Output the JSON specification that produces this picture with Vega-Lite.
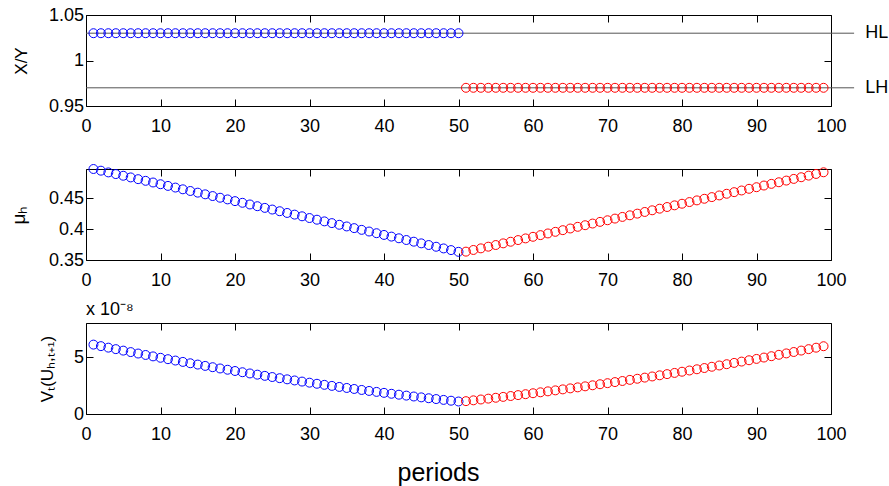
{
  "$schema": "https://vega.github.io/schema/vega-lite/v6.json",
  "padding": {"left": 8, "top": 5, "right": 0, "bottom": 0},
  "background": "white",
  "datasets": {
    "refs": [
      {"level": 1.03, "label": "HL"},
      {"level": 0.97, "label": "LH"}
    ],
    "series": [
      {"t":1,"regime":"HL","xy":1.03,"mu":0.4970,"v":6.100},
      {"t":2,"regime":"HL","xy":1.03,"mu":0.4943,"v":5.966},
      {"t":3,"regime":"HL","xy":1.03,"mu":0.4915,"v":5.833},
      {"t":4,"regime":"HL","xy":1.03,"mu":0.4888,"v":5.702},
      {"t":5,"regime":"HL","xy":1.03,"mu":0.4861,"v":5.572},
      {"t":6,"regime":"HL","xy":1.03,"mu":0.4834,"v":5.443},
      {"t":7,"regime":"HL","xy":1.03,"mu":0.4806,"v":5.316},
      {"t":8,"regime":"HL","xy":1.03,"mu":0.4779,"v":5.190},
      {"t":9,"regime":"HL","xy":1.03,"mu":0.4752,"v":5.065},
      {"t":10,"regime":"HL","xy":1.03,"mu":0.4724,"v":4.942},
      {"t":11,"regime":"HL","xy":1.03,"mu":0.4697,"v":4.820},
      {"t":12,"regime":"HL","xy":1.03,"mu":0.4670,"v":4.699},
      {"t":13,"regime":"HL","xy":1.03,"mu":0.4642,"v":4.580},
      {"t":14,"regime":"HL","xy":1.03,"mu":0.4615,"v":4.461},
      {"t":15,"regime":"HL","xy":1.03,"mu":0.4588,"v":4.345},
      {"t":16,"regime":"HL","xy":1.03,"mu":0.4561,"v":4.229},
      {"t":17,"regime":"HL","xy":1.03,"mu":0.4533,"v":4.115},
      {"t":18,"regime":"HL","xy":1.03,"mu":0.4506,"v":4.003},
      {"t":19,"regime":"HL","xy":1.03,"mu":0.4479,"v":3.891},
      {"t":20,"regime":"HL","xy":1.03,"mu":0.4451,"v":3.781},
      {"t":21,"regime":"HL","xy":1.03,"mu":0.4424,"v":3.672},
      {"t":22,"regime":"HL","xy":1.03,"mu":0.4397,"v":3.565},
      {"t":23,"regime":"HL","xy":1.03,"mu":0.4369,"v":3.459},
      {"t":24,"regime":"HL","xy":1.03,"mu":0.4342,"v":3.354},
      {"t":25,"regime":"HL","xy":1.03,"mu":0.4315,"v":3.251},
      {"t":26,"regime":"HL","xy":1.03,"mu":0.4288,"v":3.149},
      {"t":27,"regime":"HL","xy":1.03,"mu":0.4260,"v":3.048},
      {"t":28,"regime":"HL","xy":1.03,"mu":0.4233,"v":2.949},
      {"t":29,"regime":"HL","xy":1.03,"mu":0.4206,"v":2.850},
      {"t":30,"regime":"HL","xy":1.03,"mu":0.4178,"v":2.754},
      {"t":31,"regime":"HL","xy":1.03,"mu":0.4151,"v":2.658},
      {"t":32,"regime":"HL","xy":1.03,"mu":0.4124,"v":2.564},
      {"t":33,"regime":"HL","xy":1.03,"mu":0.4096,"v":2.472},
      {"t":34,"regime":"HL","xy":1.03,"mu":0.4069,"v":2.380},
      {"t":35,"regime":"HL","xy":1.03,"mu":0.4042,"v":2.290},
      {"t":36,"regime":"HL","xy":1.03,"mu":0.4015,"v":2.201},
      {"t":37,"regime":"HL","xy":1.03,"mu":0.3987,"v":2.114},
      {"t":38,"regime":"HL","xy":1.03,"mu":0.3960,"v":2.028},
      {"t":39,"regime":"HL","xy":1.03,"mu":0.3933,"v":1.943},
      {"t":40,"regime":"HL","xy":1.03,"mu":0.3905,"v":1.860},
      {"t":41,"regime":"HL","xy":1.03,"mu":0.3878,"v":1.778},
      {"t":42,"regime":"HL","xy":1.03,"mu":0.3851,"v":1.697},
      {"t":43,"regime":"HL","xy":1.03,"mu":0.3823,"v":1.617},
      {"t":44,"regime":"HL","xy":1.03,"mu":0.3796,"v":1.539},
      {"t":45,"regime":"HL","xy":1.03,"mu":0.3769,"v":1.463},
      {"t":46,"regime":"HL","xy":1.03,"mu":0.3742,"v":1.387},
      {"t":47,"regime":"HL","xy":1.03,"mu":0.3714,"v":1.313},
      {"t":48,"regime":"HL","xy":1.03,"mu":0.3687,"v":1.240},
      {"t":49,"regime":"HL","xy":1.03,"mu":0.3660,"v":1.169},
      {"t":50,"regime":"HL","xy":1.03,"mu":0.3632,"v":1.099},
      {"t":51,"regime":"LH","xy":0.97,"mu":0.3635,"v":1.130},
      {"t":52,"regime":"LH","xy":0.97,"mu":0.3662,"v":1.202},
      {"t":53,"regime":"LH","xy":0.97,"mu":0.3688,"v":1.276},
      {"t":54,"regime":"LH","xy":0.97,"mu":0.3715,"v":1.351},
      {"t":55,"regime":"LH","xy":0.97,"mu":0.3742,"v":1.427},
      {"t":56,"regime":"LH","xy":0.97,"mu":0.3769,"v":1.504},
      {"t":57,"regime":"LH","xy":0.97,"mu":0.3795,"v":1.582},
      {"t":58,"regime":"LH","xy":0.97,"mu":0.3822,"v":1.662},
      {"t":59,"regime":"LH","xy":0.97,"mu":0.3849,"v":1.743},
      {"t":60,"regime":"LH","xy":0.97,"mu":0.3875,"v":1.825},
      {"t":61,"regime":"LH","xy":0.97,"mu":0.3902,"v":1.908},
      {"t":62,"regime":"LH","xy":0.97,"mu":0.3929,"v":1.992},
      {"t":63,"regime":"LH","xy":0.97,"mu":0.3955,"v":2.078},
      {"t":64,"regime":"LH","xy":0.97,"mu":0.3982,"v":2.165},
      {"t":65,"regime":"LH","xy":0.97,"mu":0.4009,"v":2.253},
      {"t":66,"regime":"LH","xy":0.97,"mu":0.4036,"v":2.342},
      {"t":67,"regime":"LH","xy":0.97,"mu":0.4062,"v":2.432},
      {"t":68,"regime":"LH","xy":0.97,"mu":0.4089,"v":2.524},
      {"t":69,"regime":"LH","xy":0.97,"mu":0.4116,"v":2.617},
      {"t":70,"regime":"LH","xy":0.97,"mu":0.4142,"v":2.711},
      {"t":71,"regime":"LH","xy":0.97,"mu":0.4169,"v":2.806},
      {"t":72,"regime":"LH","xy":0.97,"mu":0.4196,"v":2.902},
      {"t":73,"regime":"LH","xy":0.97,"mu":0.4222,"v":3.000},
      {"t":74,"regime":"LH","xy":0.97,"mu":0.4249,"v":3.099},
      {"t":75,"regime":"LH","xy":0.97,"mu":0.4276,"v":3.199},
      {"t":76,"regime":"LH","xy":0.97,"mu":0.4303,"v":3.300},
      {"t":77,"regime":"LH","xy":0.97,"mu":0.4329,"v":3.402},
      {"t":78,"regime":"LH","xy":0.97,"mu":0.4356,"v":3.506},
      {"t":79,"regime":"LH","xy":0.97,"mu":0.4383,"v":3.611},
      {"t":80,"regime":"LH","xy":0.97,"mu":0.4409,"v":3.717},
      {"t":81,"regime":"LH","xy":0.97,"mu":0.4436,"v":3.824},
      {"t":82,"regime":"LH","xy":0.97,"mu":0.4463,"v":3.932},
      {"t":83,"regime":"LH","xy":0.97,"mu":0.4489,"v":4.042},
      {"t":84,"regime":"LH","xy":0.97,"mu":0.4516,"v":4.153},
      {"t":85,"regime":"LH","xy":0.97,"mu":0.4543,"v":4.265},
      {"t":86,"regime":"LH","xy":0.97,"mu":0.4570,"v":4.378},
      {"t":87,"regime":"LH","xy":0.97,"mu":0.4596,"v":4.492},
      {"t":88,"regime":"LH","xy":0.97,"mu":0.4623,"v":4.608},
      {"t":89,"regime":"LH","xy":0.97,"mu":0.4650,"v":4.725},
      {"t":90,"regime":"LH","xy":0.97,"mu":0.4676,"v":4.843},
      {"t":91,"regime":"LH","xy":0.97,"mu":0.4703,"v":4.962},
      {"t":92,"regime":"LH","xy":0.97,"mu":0.4730,"v":5.082},
      {"t":93,"regime":"LH","xy":0.97,"mu":0.4756,"v":5.204},
      {"t":94,"regime":"LH","xy":0.97,"mu":0.4783,"v":5.327},
      {"t":95,"regime":"LH","xy":0.97,"mu":0.4810,"v":5.451},
      {"t":96,"regime":"LH","xy":0.97,"mu":0.4837,"v":5.576},
      {"t":97,"regime":"LH","xy":0.97,"mu":0.4863,"v":5.702},
      {"t":98,"regime":"LH","xy":0.97,"mu":0.4890,"v":5.830},
      {"t":99,"regime":"LH","xy":0.97,"mu":0.4917,"v":5.959}
    ]
  },
  "bounds": "flush",
  "spacing": 63,
  "vconcat": [
    {
      "width": 745,
      "height": 91,
      "layer": [
        {
          "data": {"name": "refs"},
          "mark": {"type": "rule", "color": "#555555", "strokeWidth": 1},
          "encoding": {
            "x": {"datum": 0, "type": "quantitative", "axis": null},
            "x2": {"datum": 103.1},
            "y": {"field": "level", "type": "quantitative", "axis": null}
          }
        },
        {
          "data": {"name": "refs"},
          "mark": {"type": "text", "align": "left", "baseline": "middle", "fontSize": 18, "font": "Liberation Sans", "color": "black"},
          "encoding": {
            "x": {"datum": 104.6, "type": "quantitative", "axis": null},
            "y": {"field": "level", "type": "quantitative", "axis": null},
            "text": {"field": "label"}
          }
        },
        {
          "data": {"name": "series"},
          "mark": {"type": "point", "shape": "circle", "filled": false, "size": 80, "strokeWidth": 1, "opacity": 1},
          "encoding": {
            "x": {"field": "t", "type": "quantitative", "scale": {"domain": [0, 100], "nice": false, "zero": false},
                  "axis": {"orient": "bottom", "values": [0,10,20,30,40,50,60,70,80,90,100], "title": null}},
            "y": {"field": "xy", "type": "quantitative", "scale": {"domain": [0.95, 1.05], "nice": false, "zero": false},
                  "axis": {"orient": "left", "values": [0.95, 1, 1.05], "labelExpr": "'' + datum.value", "title": "X/Y",
                           "titleX": -60, "titleY": 45.5, "titleAngle": 270, "titleBaseline": "alphabetic", "titleAlign": "center"}},
            "color": {"field": "regime", "type": "nominal", "scale": {"domain": ["HL", "LH"], "range": ["#0000ff", "#ff0000"]}, "legend": null}
          }
        },
        {
          "data": {"name": "series"},
          "mark": {"type": "point", "opacity": 0},
          "encoding": {
            "x": {"field": "t", "type": "quantitative", "axis": {"orient": "top", "values": [0,10,20,30,40,50,60,70,80,90,100], "labels": false, "title": null}},
            "y": {"field": "xy", "type": "quantitative", "axis": {"orient": "right", "values": [0.95, 1, 1.05], "labels": false, "title": null}}
          }
        }
      ],
      "resolve": {"axis": {"x": "independent", "y": "independent"}}
    },
    {
      "width": 745,
      "height": 91,
      "data": {"name": "series"},
      "layer": [
        {
          "mark": {"type": "point", "shape": "circle", "filled": false, "size": 80, "strokeWidth": 1, "opacity": 1},
          "encoding": {
            "x": {"field": "t", "type": "quantitative", "scale": {"domain": [0, 100], "nice": false, "zero": false},
                  "axis": {"orient": "bottom", "values": [0,10,20,30,40,50,60,70,80,90,100], "title": null}},
            "y": {"field": "mu", "type": "quantitative", "scale": {"domain": [0.35, 0.497], "nice": false, "zero": false},
                  "axis": {"orient": "left", "values": [0.35, 0.4, 0.45], "labelExpr": "'' + datum.value", "title": "μₕ",
                           "titleX": -62, "titleY": 45.5, "titleAngle": 270, "titleBaseline": "alphabetic", "titleAlign": "center", "titleFontSize": 19}},
            "color": {"field": "regime", "type": "nominal", "scale": {"domain": ["HL", "LH"], "range": ["#0000ff", "#ff0000"]}, "legend": null}
          }
        },
        {
          "mark": {"type": "point", "opacity": 0},
          "encoding": {
            "x": {"field": "t", "type": "quantitative", "axis": {"orient": "top", "values": [0,10,20,30,40,50,60,70,80,90,100], "labels": false, "title": null}},
            "y": {"field": "mu", "type": "quantitative", "axis": {"orient": "right", "values": [0.35, 0.4, 0.45], "labels": false, "title": null}}
          }
        }
      ],
      "resolve": {"axis": {"x": "independent", "y": "independent"}}
    },
    {
      "width": 745,
      "height": 91,
      "data": {"name": "series"},
      "title": {"text": "x 10⁻⁸", "anchor": "start", "frame": "group", "fontSize": 18, "fontWeight": "normal", "font": "Liberation Sans", "color": "black", "baseline": "alphabetic", "offset": 7, "dy": 17},
      "layer": [
        {
          "mark": {"type": "point", "shape": "circle", "filled": false, "size": 80, "strokeWidth": 1, "opacity": 1},
          "encoding": {
            "x": {"field": "t", "type": "quantitative", "scale": {"domain": [0, 100], "nice": false, "zero": false},
                  "axis": {"orient": "bottom", "values": [0,10,20,30,40,50,60,70,80,90,100], "title": "periods",
                           "titleX": 352, "titleY": 66, "titleBaseline": "alphabetic", "titleAlign": "center", "titleFontSize": 25}},
            "y": {"field": "v", "type": "quantitative", "scale": {"domain": [0, 8], "nice": false, "zero": false},
                  "axis": {"orient": "left", "values": [0, 5], "title": "Vₜ(Uₕ,ₜ₊₁)",
                           "titleX": -34, "titleY": 45.5, "titleAngle": 270, "titleBaseline": "alphabetic", "titleAlign": "center"}},
            "color": {"field": "regime", "type": "nominal", "scale": {"domain": ["HL", "LH"], "range": ["#0000ff", "#ff0000"]}, "legend": null}
          }
        },
        {
          "mark": {"type": "point", "opacity": 0},
          "encoding": {
            "x": {"field": "t", "type": "quantitative", "axis": {"orient": "top", "values": [0,10,20,30,40,50,60,70,80,90,100], "labels": false, "title": null}},
            "y": {"field": "v", "type": "quantitative", "axis": {"orient": "right", "values": [0, 5], "labels": false, "title": null}}
          }
        }
      ],
      "resolve": {"axis": {"x": "independent", "y": "independent"}}
    }
  ],
  "config": {
    "view": {"stroke": "black", "strokeWidth": 1},
    "font": "Liberation Sans",
    "axis": {
      "grid": false, "domain": false, "tickSize": -7, "tickColor": "black", "tickWidth": 1,
      "labelColor": "black", "labelFont": "Liberation Sans", "labelFontSize": 18,
      "labelFlush": false, "labelOverlap": false,
      "titleColor": "black", "titleFont": "Liberation Sans", "titleFontWeight": "normal", "titleFontSize": 17
    },
    "axisX": {"labelPadding": 18},
    "axisY": {"labelPadding": 9.5}
  }
}
